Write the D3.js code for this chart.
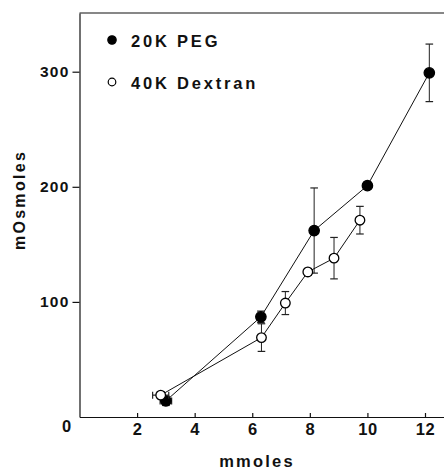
<!DOCTYPE html>
<html>
<head>
<meta charset="utf-8">
<script src="https://cdn.jsdelivr.net/npm/d3@7"></script>
<style>
  body { margin: 0; background: #fff; }
  svg { display: block; font-family: "Liberation Sans", Arial, sans-serif; font-weight: bold; }
</style>
</head>
<body>
<svg id="chart" width="444" height="471"></svg>
<script>
// 20K PEG (filled circles)
const pegX = [3.0, 6.3, 8.15, 10.0, 12.15];
const pegY = [14, 87, 162, 201, 299];
const pegErr = [4, 5, 37, 3, 25];
const pegXErr = [0.2, 0, 0, 0, 0];

// 40K Dextran (open circles)
const dexX = [2.82, 6.32, 7.15, 7.93, 8.84, 9.74];
const dexY = [19, 69, 99, 126, 138, 171];
const dexErr = [3, 12, 10, 3, 18, 12];
const dexXErr = [0.28, 0, 0, 0, 0, 0];

const xTicks = [2, 4, 6, 8, 10, 12];
const yTicks = [100, 200, 300];
const legendLabels = ['20K PEG', '40K Dextran'];

const svg = d3.select('#chart');

const xScale = d3.scaleLinear().domain([0, 12.66]).range([79.5, 444]);
const yScale = d3.scaleLinear().domain([0, 351]).range([417, 13]);

// axes
const xAxis = svg.append('g')
    .attr('transform', `translate(0,${yScale(0)})`)
    .call(d3.axisBottom(xScale).tickValues(xTicks).tickSizeInner(-4).tickSizeOuter(0).tickPadding(6.5));
xAxis.selectAll('text').attr('font-size', 16.5).attr('font-family', null).attr('letter-spacing', 0.5);

const yAxis = svg.append('g')
    .attr('transform', `translate(${xScale(0)},0)`)
    .call(d3.axisLeft(yScale).tickValues(yTicks).tickSizeInner(7).tickSizeOuter(0).tickPadding(3));
yAxis.selectAll('text').attr('font-size', 15.5).attr('font-family', null).attr('letter-spacing', 1.2);
svg.selectAll('.domain, .tick line').attr('stroke', '#111').attr('stroke-width', 1.2);
svg.selectAll('.tick text').attr('fill', '#111');

// top frame line
svg.append('line')
    .attr('x1', xScale(0)).attr('x2', xScale.range()[1])
    .attr('y1', yScale.range()[1]).attr('y2', yScale.range()[1])
    .attr('stroke', '#111').attr('stroke-width', 1.2);

// origin label
svg.append('text')
    .attr('x', xScale(0) - 13).attr('y', yScale(0) + 15)
    .attr('text-anchor', 'middle').attr('font-size', 16.5).attr('fill', '#111')
    .text('0');

// axis titles
svg.append('text')
    .attr('x', 257).attr('y', 467)
    .attr('text-anchor', 'middle').attr('font-size', 16.5).attr('letter-spacing', 2.2).attr('fill', '#111')
    .text('mmoles');

svg.append('text')
    .attr('transform', 'translate(25,200) rotate(-90)')
    .attr('text-anchor', 'middle').attr('font-size', 16).attr('letter-spacing', 2.3).attr('fill', '#111')
    .text('mOsmoles');

// series
const series = [
    { xs: pegX, ys: pegY, err: pegErr, xerr: pegXErr, filled: true, r: 5.2 },
    { xs: dexX, ys: dexY, err: dexErr, xerr: dexXErr, filled: false, r: 4.8 }
];

const line = d3.line().x(d => xScale(d.x)).y(d => yScale(d.y));

series.forEach(s => {
    const pts = s.xs.map((x, i) => ({ x, y: s.ys[i], e: s.err[i], xe: s.xerr[i] }));
    const g = svg.append('g');

    // vertical error bars
    pts.forEach(p => {
        if (!p.e) return;
        const cx = xScale(p.x);
        g.append('line').attr('x1', cx).attr('x2', cx)
            .attr('y1', yScale(p.y - p.e)).attr('y2', yScale(p.y + p.e))
            .attr('stroke', '#222').attr('stroke-width', 1);
        [p.y - p.e, p.y + p.e].forEach(v => {
            g.append('line').attr('x1', cx - 3.8).attr('x2', cx + 3.8)
                .attr('y1', yScale(v)).attr('y2', yScale(v))
                .attr('stroke', '#222').attr('stroke-width', 1.2);
        });
    });

    // horizontal error bars
    pts.forEach(p => {
        if (!p.xe) return;
        const cy = yScale(p.y);
        g.append('line').attr('x1', xScale(p.x - p.xe)).attr('x2', xScale(p.x + p.xe))
            .attr('y1', cy).attr('y2', cy)
            .attr('stroke', '#222').attr('stroke-width', 1.2);
        [p.x - p.xe, p.x + p.xe].forEach(v => {
            g.append('line').attr('x1', xScale(v)).attr('x2', xScale(v))
                .attr('y1', cy - 3.5).attr('y2', cy + 3.5)
                .attr('stroke', '#222').attr('stroke-width', 1.2);
        });
    });

    g.append('path').datum(pts)
        .attr('d', line)
        .attr('fill', 'none').attr('stroke', '#111').attr('stroke-width', 1);

    g.selectAll('circle').data(pts).join('circle')
        .attr('cx', d => xScale(d.x)).attr('cy', d => yScale(d.y))
        .attr('r', s.r)
        .attr('fill', s.filled ? '#000' : '#fff')
        .attr('stroke', '#000').attr('stroke-width', 1.3);
});

// legend
const legend = svg.append('g');
legendLabels.forEach((lab, i) => {
    const y = 40 + i * 42;
    legend.append('circle')
        .attr('cx', 112).attr('cy', y).attr('r', i === 0 ? 4.2 : 3.8)
        .attr('fill', i === 0 ? '#000' : '#fff')
        .attr('stroke', '#000').attr('stroke-width', 1.2);
    legend.append('text')
        .attr('x', 131).attr('y', y + 6.5)
        .attr('font-size', 16.5).attr('letter-spacing', 2.8).attr('fill', '#111')
        .text(lab);
});
</script>
</body>
</html>
